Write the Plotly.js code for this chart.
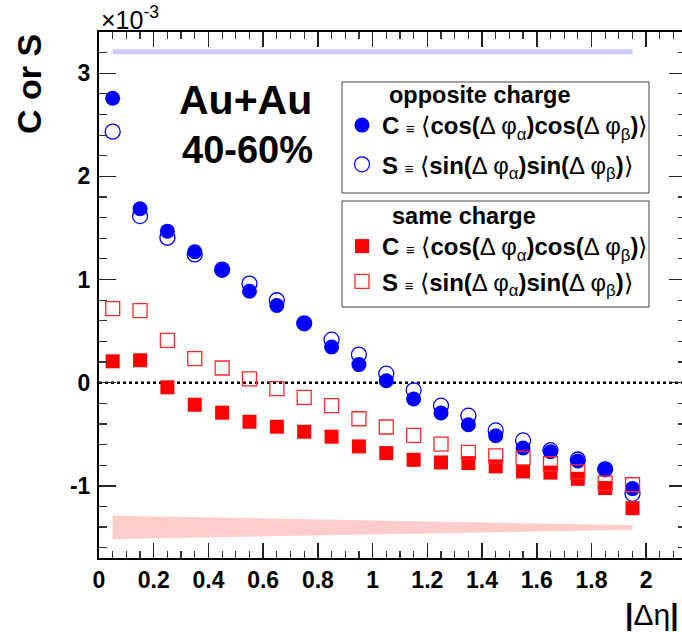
<!DOCTYPE html>
<html>
<head>
<meta charset="utf-8">
<script src="https://cdn.plot.ly/plotly-3.0.1.min.js"></script>
<style>
html,body{margin:0;padding:0;overflow:hidden;background:#fff;}
#chart{width:686px;height:632px;}
</style>
</head>
<body>
<div id="chart"></div>
<script>
// |Δη| bin centres
const deta = [0.05,0.15,0.25,0.35,0.45,0.55,0.65,0.75,0.85,0.95,1.05,1.15,1.25,1.35,1.45,1.55,1.65,1.75,1.85,1.95];
// opposite charge (x10^-3)
const oppC = [2.757,1.686,1.469,1.269,1.090,0.886,0.748,0.573,0.346,0.175,0.019,-0.159,-0.294,-0.408,-0.515,-0.634,-0.670,-0.760,-0.838,-1.027];
const oppS = [2.434,1.615,1.405,1.243,1.097,0.961,0.799,0.575,0.417,0.272,0.087,-0.074,-0.223,-0.320,-0.463,-0.560,-0.655,-0.745,-0.840,-1.078];
// same charge (x10^-3)
const sameC = [0.207,0.217,-0.045,-0.214,-0.291,-0.379,-0.427,-0.476,-0.524,-0.618,-0.683,-0.748,-0.774,-0.780,-0.812,-0.861,-0.872,-0.932,-1.022,-1.217];
const sameS = [0.718,0.699,0.411,0.233,0.142,0.036,-0.058,-0.142,-0.223,-0.350,-0.430,-0.511,-0.595,-0.676,-0.709,-0.731,-0.786,-0.865,-0.974,-0.990];
// systematic bands
const bandX = [0.05, 1.95];
const oppBandLo = [3.184, 3.184];
const oppBandHi = [3.233, 3.233];
const sameBandLo = [-1.515, -1.427];
const sameBandHi = [-1.290, -1.382];
// tick labels
const yTickVals = [-1, 0, 1, 2, 3];
const yTickText = ['-1', '0', '1', '2', '3'];
// legend headings
const groupTitles = ['opposite charge', 'same charge'];

const FONT = '"Liberation Sans", Arial, Helvetica, sans-serif';
const N = "font-weight:normal";
const cName = `C <span style="${N};font-size:15px">≡</span> <span style="${N}">⟨</span>cos(<span style="${N}">Δ φ<sub>α</sub></span>)cos(<span style="${N}">Δ φ<sub>β</sub></span>)<span style="${N}">⟩</span>`;
const sName = `S <span style="${N};font-size:15px">≡</span> <span style="${N}">⟨</span>sin(<span style="${N}">Δ φ<sub>α</sub></span>)sin(<span style="${N}">Δ φ<sub>β</sub></span>)<span style="${N}">⟩</span>`;

function poly(x, lo, hi) {
  return {x: x.concat(x.slice().reverse()), y: hi.concat(lo.slice().reverse())};
}
const pOpp = poly(bandX, oppBandLo, oppBandHi);
const pSame = poly(bandX, sameBandLo, sameBandHi);

const traces = [
  {x: pOpp.x, y: pOpp.y, type:'scatter', mode:'lines', fill:'toself', fillcolor:'#ccccfa', line:{width:0}, showlegend:false, hoverinfo:'skip'},
  {x: pSame.x, y: pSame.y, type:'scatter', mode:'lines', fill:'toself', fillcolor:'#ffcccc', line:{width:0}, showlegend:false, hoverinfo:'skip'},
  {x: deta, y: oppS, type:'scatter', mode:'markers', name:sName, legend:'legend', legendgroup:'b', legendrank:2,
   marker:{symbol:'circle-open', size:15, color:'#0000ff', line:{width:1.3, color:'#0000ff'}}},
  {x: deta, y: oppC, type:'scatter', mode:'markers', name:cName, legend:'legend', legendgroup:'a', legendrank:1,
   marker:{symbol:'circle', size:15, color:'#0000ff'}},
  {x: deta, y: sameC, type:'scatter', mode:'markers', name:cName, legend:'legend2', legendgroup:'c', legendrank:1,
   marker:{symbol:'square', size:14, color:'#ff0000'}},
  {x: deta, y: sameS, type:'scatter', mode:'markers', name:sName, legend:'legend2', legendgroup:'d', legendrank:2,
   marker:{symbol:'square-open', size:14, color:'#ff2a2a', line:{width:1.3, color:'#ff2a2a'}}}
];

const W = 686, H = 632, ML = 99, MT = 32, MR = 0, MB = 74;
const pw = W - ML - MR, ph = H - MT - MB;
const px = v => (v - ML) / pw;
const py = v => (H - MB - v) / ph;

const axisCommon = {
  showline:true, linewidth:2, linecolor:'#000', mirror:'ticks',
  ticks:'inside', tickwidth:1.5, tickcolor:'#222',
  showgrid:false, zeroline:false, automargin:false,
  tickfont:{family:FONT, size:23, color:'#000', weight:'bold'}
};

const legendCommon = {
  xanchor:'left', yanchor:'top',
  bgcolor:'rgba(0,0,0,0)', borderwidth:0,
  font:{family:FONT, size:24, color:'#000', weight:'bold'},
  traceorder:'grouped'
};

const layout = {
  width:W, height:H,
  margin:{l:ML, r:MR, t:MT, b:MB, pad:0, autoexpand:false},
  paper_bgcolor:'#fff', plot_bgcolor:'#fff',
  font:{family:FONT, color:'#000'},
  xaxis: Object.assign({}, axisCommon, {
    range:[0, pw/273.6], tickmode:'linear', tick0:0, dtick:0.2, ticklen:15, tickangle:0,
    ticklabelstandoff:0,
    minor:{tickmode:'linear', tick0:0, dtick:0.05, ticklen:7, ticks:'inside', tickwidth:1.2, tickcolor:'#333'}
  }),
  yaxis: Object.assign({}, axisCommon, {
    range:[-1.7, 3.4], tickmode:'array', tickvals:yTickVals, ticktext:yTickText, ticklen:17,
    ticklabelstandoff:2,
    minor:{tickmode:'linear', tick0:0, dtick:0.2, ticklen:8, ticks:'inside', tickwidth:1.2, tickcolor:'#333'}
  }),
  shapes:[
    {type:'line', xref:'paper', x0:0, x1:1, yref:'y', y0:0, y1:0, line:{color:'#000', width:2.5, dash:'dot'}, layer:'below'},
    {type:'rect', xref:'paper', yref:'paper', x0:px(342), x1:px(649), y0:py(193), y1:py(82), fillcolor:'#fff', line:{color:'#444', width:1}, layer:'above'},
    {type:'rect', xref:'paper', yref:'paper', x0:px(342), x1:px(649), y0:py(307), y1:py(201), fillcolor:'#fff', line:{color:'#444', width:1}, layer:'above'}
  ],
  legend: Object.assign({}, legendCommon, {x:px(342), y:py(103), tracegroupgap:5}),
  legend2: Object.assign({}, legendCommon, {x:px(342), y:py(224), tracegroupgap:1}),
  annotations:[
    {xref:'paper', yref:'paper', x:px(387), y:py(95), text:groupTitles[0], showarrow:false, xanchor:'left', yanchor:'middle',
     font:{family:FONT, size:23.5, weight:'bold', color:'#000'}},
    {xref:'paper', yref:'paper', x:px(390), y:py(216), text:groupTitles[1], showarrow:false, xanchor:'left', yanchor:'middle',
     font:{family:FONT, size:23.5, weight:'bold', color:'#000'}},
    {xref:'paper', yref:'paper', x:px(245.5), y:py(100), text:'Au+Au', showarrow:false, xanchor:'center', yanchor:'middle',
     font:{family:FONT, size:41, weight:'bold', color:'#000'}},
    {xref:'paper', yref:'paper', x:px(248), y:py(150), text:'40-60%', showarrow:false, xanchor:'center', yanchor:'middle',
     font:{family:FONT, size:38, weight:'bold', color:'#000'}},
    {xref:'paper', yref:'paper', x:px(99), y:py(18), text:'×10<sup>-3</sup>', showarrow:false, xanchor:'left', yanchor:'middle',
     font:{family:FONT, size:25, color:'#000'}},
    {xref:'paper', yref:'paper', x:px(29), y:py(84), text:'C or S', showarrow:false, textangle:-90, xanchor:'center', yanchor:'middle',
     font:{family:FONT, size:34, weight:'bold', color:'#000'}},
    {xref:'paper', yref:'paper', x:px(681), y:py(614), text:'|<span style="font-weight:normal">Δη</span>|', showarrow:false, xanchor:'right', yanchor:'middle',
     font:{family:FONT, size:30, weight:'bold', color:'#000'}}
  ]
};

Plotly.newPlot('chart', traces, layout, {displayModeBar:false, staticPlot:true});
</script>
</body>
</html>
